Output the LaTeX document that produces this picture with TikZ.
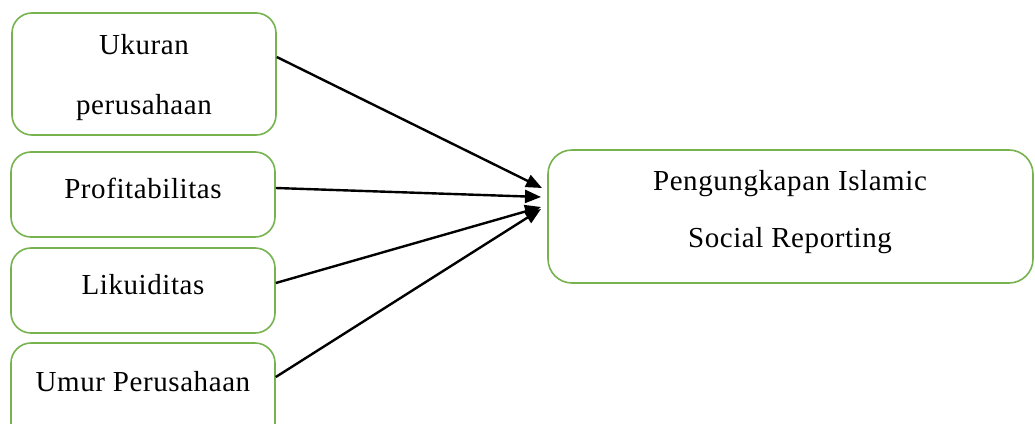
\documentclass[tikz,border=0pt]{standalone}
\usepackage{fontspec}
\setmainfont{Liberation Serif}[LetterSpace=2]
\usetikzlibrary{arrows.meta}
\definecolor{boxgreen}{RGB}{118,178,78}
\tikzset{
  varbox/.style={draw=boxgreen, line width=1.6pt, rounded corners=20pt, minimum width=264pt, inner sep=0pt},
  lbl/.style={font=\fontsize{29}{58}\selectfont, align=center, inner sep=0pt, text=black},
  arr/.style={line width=2.4pt, -{Triangle[length=16pt,width=13pt]}}
}
\begin{document}
\begin{tikzpicture}[x=1pt,y=-1pt]
\useasboundingbox (0,0) rectangle (1035,423);
\node[varbox, minimum height=122pt] (b1) at (144,74) {};
\node[varbox, minimum height=85pt] (b2) at (143,194.5) {};
\node[varbox, minimum height=85pt] (b3) at (143,290.5) {};
\node[varbox, minimum height=100pt] (b4) at (143,393) {};
\node[varbox, minimum width=485pt, minimum height=133pt, rounded corners=24pt] (b5) at (790.5,216.5) {};
\node[lbl, font=\fontsize{29}{60}\selectfont] (t1) at (144,78) {Ukuran\\perusahaan};
\node[lbl] (t2) at (143,188) {Profitabilitas};
\node[lbl] (t3) at (143,285) {Likuiditas};
\node[lbl] (t4) at (143,382) {Umur Perusahaan};
\node[lbl, font=\fontsize{29}{57}\selectfont] (t5) at (790,212) {Pengungkapan Islamic\\Social Reporting};
\coordinate (e1) at (542,188);
\coordinate (e2) at (541,197);
\coordinate (e3) at (541,207);
\coordinate (e4) at (541,209);
\draw[arr] ([yshift=17pt]b1.east) -- (e1);
\draw[arr] ([yshift=6.5pt]b2.east) -- (e2);
\draw[arr] ([yshift=7.5pt]b3.east) -- (e3);
\draw[arr] ([yshift=16pt]b4.east) -- (e4);
\end{tikzpicture}
\end{document}
